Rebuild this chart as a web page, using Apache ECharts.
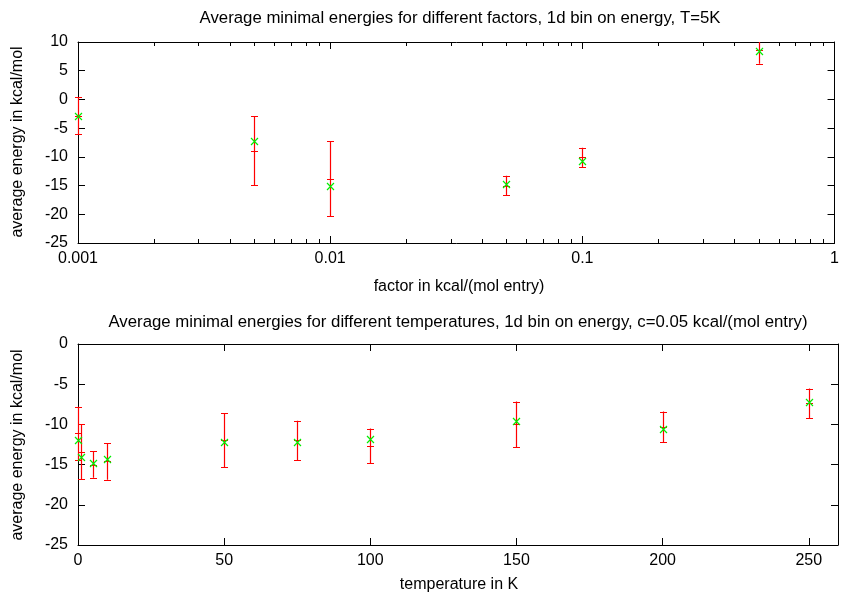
<!DOCTYPE html>
<html><head><meta charset="utf-8">
<script src="https://cdn.jsdelivr.net/npm/echarts@6/dist/echarts.min.js"></script>
<style>html,body{margin:0;padding:0;background:#fff}#c{width:842px;height:599px}</style>
</head><body><div id="c"></div><script>
// ---- data ----
const factors      = [0.001, 0.005, 0.01, 0.05, 0.1, 0.5];
const factorMean   = [-2.8, -8.9, -13.8, -15.0, -10.1, 8.6];
const factorErr    = [3.2, 6.0, 6.5, 1.7, 1.7, 2.4];
const factorOther  = [-2.85, -7.3, -15.0, -14.75, -10.7, 8.5];

const temps        = [0, 1, 5, 10, 50, 75, 100, 150, 200, 250];
const tempMean     = [-11.1, -13.4, -15.0, -14.6, -11.95, -12.0, -12.67, -9.98, -10.3, -7.37];
const tempErr      = [3.3, 3.45, 1.65, 2.27, 3.37, 2.45, 2.16, 2.82, 1.9, 1.82];
const tempOther    = [-12.0, -14.0, -14.86, -14.27, -12.21, -12.21, -11.8, -9.56, -10.51, -7.16];

const factorTicks  = [0.001, 0.01, 0.1, 1];
const factorMinor  = [0.002,0.003,0.004,0.005,0.006,0.007,0.008,0.009,
                      0.02,0.03,0.04,0.05,0.06,0.07,0.08,0.09,
                      0.2,0.3,0.4,0.5,0.6,0.7,0.8,0.9];
const tempTicks    = [0, 50, 100, 150, 200, 250];

const titleTop    = 'Average minimal energies for different factors, 1d bin on energy, T=5K';
const titleBottom = 'Average minimal energies for different temperatures, 1d bin on energy, c=0.05 kcal/(mol entry)';
const xNameTop    = 'factor in kcal/(mol entry)';
const xNameBottom = 'temperature in K';
const yName       = 'average energy in kcal/mol';

// ---- chart ----
const FONT = 'Liberation Sans, Arial, Helvetica, sans-serif';
const FS = 16;
const FT = 16.8;
const RED = '#ff0000', GREEN = '#00ee00';
const LW = 1.2;

function errRender(params, api) {
  const x = api.value(0), m = api.value(1), e = api.value(2);
  const cs = params.coordSys;
  const top = api.coord([x, m + e]), bot = api.coord([x, m - e]), mid = api.coord([x, m]);
  const yMin = cs.y, yMax = cs.y + cs.height;
  const cl = v => Math.max(yMin, Math.min(yMax, v));
  const cx = Math.round(top[0]) + 0.5, h = 3.5;
  let d = 'M' + cx + ' ' + cl(top[1]) + 'L' + cx + ' ' + cl(bot[1]);
  [top[1], bot[1], mid[1]].forEach(y => {
    if (y >= yMin - 0.5 && y <= yMax + 0.5) {
      const yy = Math.round(y) + 0.5;
      d += 'M' + (cx - h) + ' ' + yy + 'L' + (cx + h) + ' ' + yy;
    }
  });
  return {type: 'path', shape: {pathData: d}, style: {stroke: RED, fill: null, lineWidth: LW, opacity: 1}, z2: 1};
}
function xRender(params, api) {
  const p = api.coord([api.value(0), api.value(1)]);
  const h = 3.5, x = Math.round(p[0]) + 0.5, y = Math.round(p[1]) + 0.5;
  const d = 'M' + (x - h) + ' ' + (y - h) + 'L' + (x + h) + ' ' + (y + h) +
            'M' + (x - h) + ' ' + (y + h) + 'L' + (x + h) + ' ' + (y - h);
  return {type: 'path', shape: {pathData: d}, style: {stroke: GREEN, fill: null, lineWidth: LW, opacity: 1}, z2: 2};
}
function minorRender(params, api) {
  const cs = params.coordSys;
  const p = api.coord([api.value(0), -25]);
  const x = Math.round(p[0]) + 0.5, L = 4;
  const y0 = cs.y, y1 = cs.y + cs.height;
  const d = 'M' + x + ' ' + y1 + 'L' + x + ' ' + (y1 - L) + 'M' + x + ' ' + y0 + 'L' + x + ' ' + (y0 + L);
  return {type: 'path', shape: {pathData: d}, style: {stroke: '#000', fill: null, lineWidth: 1}};
}

const axLine = {show: true, onZero: false, lineStyle: {color: '#000', width: 1}};
const lbl = {color: '#000', fontSize: FS, fontFamily: FONT};

function xAx(grid, type, min, max, pos, showLabel, ticks) {
  const a = {
    gridIndex: grid, type: type, min: min, max: max, position: pos,
    axisLine: axLine,
    axisTick: {show: true, inside: true, length: 7, lineStyle: {color: '#000'}, customValues: ticks},
    axisLabel: Object.assign({show: showLabel, margin: 8, customValues: ticks,
      formatter: v => String(v)}, lbl),
    splitLine: {show: false}, minorTick: {show: false}
  };
  if (type === 'log') a.logBase = 10;
  return a;
}
function yAx(grid, min, max, pos, showLabel) {
  return {
    gridIndex: grid, type: 'value', min: min, max: max, interval: 5, position: pos,
    axisLine: axLine,
    axisTick: {show: true, inside: true, length: 7, lineStyle: {color: '#000'}},
    axisLabel: Object.assign({show: showLabel, margin: 10}, lbl),
    splitLine: {show: false}
  };
}

const option = {
  animation: false,
  backgroundColor: '#fff',
  tooltip: {show: false},
  grid: [
    {left: 78, top: 42, width: 761, height: 201},
    {left: 78, top: 344, width: 760, height: 201}
  ],
  xAxis: [
    xAx(0, 'log', 0.001, 1, 'bottom', true, factorTicks),
    xAx(0, 'log', 0.001, 1, 'top', false, factorTicks),
    xAx(1, 'value', 0, 260, 'bottom', true, tempTicks),
    xAx(1, 'value', 0, 260, 'top', false, tempTicks)
  ],
  yAxis: [
    yAx(0, -25, 10, 'left', true),
    yAx(0, -25, 10, 'right', false),
    yAx(1, -25, 0, 'left', true),
    yAx(1, -25, 0, 'right', false)
  ],
  series: [
    {type: 'custom', xAxisIndex: 0, yAxisIndex: 0, renderItem: minorRender, clip: false, silent: true,
     data: factorMinor.map(v => [v])},
    {type: 'custom', xAxisIndex: 0, yAxisIndex: 0, renderItem: errRender, clip: false, silent: true,
     data: factors.map((f, i) => [f, factorMean[i], factorErr[i]])},
    {type: 'custom', xAxisIndex: 0, yAxisIndex: 0, renderItem: xRender, clip: false, silent: true,
     data: factors.map((f, i) => [f, factorOther[i]])},
    {type: 'custom', xAxisIndex: 2, yAxisIndex: 2, renderItem: errRender, clip: false, silent: true,
     data: temps.map((t, i) => [t, tempMean[i], tempErr[i]])},
    {type: 'custom', xAxisIndex: 2, yAxisIndex: 2, renderItem: xRender, clip: false, silent: true,
     data: temps.map((t, i) => [t, tempOther[i]])}
  ],
  graphic: [
    {type: 'text', x: 460, y: 18, style: {text: titleTop, font: FT + 'px ' + FONT, fill: '#000', align: 'center', verticalAlign: 'middle'}},
    {type: 'text', x: 459, y: 287, style: {text: xNameTop, font: FS + 'px ' + FONT, fill: '#000', align: 'center', verticalAlign: 'middle'}},
    {type: 'text', x: 458, y: 322, style: {text: titleBottom, font: FT + 'px ' + FONT, fill: '#000', align: 'center', verticalAlign: 'middle'}},
    {type: 'text', x: 459, y: 585, style: {text: xNameBottom, font: FS + 'px ' + FONT, fill: '#000', align: 'center', verticalAlign: 'middle'}},
    {type: 'text', x: 18, y: 142, rotation: Math.PI / 2, style: {text: yName, font: FS + 'px ' + FONT, fill: '#000', align: 'center', verticalAlign: 'middle'}},
    {type: 'text', x: 18, y: 445, rotation: Math.PI / 2, style: {text: yName, font: FS + 'px ' + FONT, fill: '#000', align: 'center', verticalAlign: 'middle'}}
  ]
};
const chart = echarts.init(document.getElementById('c'));
chart.setOption(option);
</script></body></html>
